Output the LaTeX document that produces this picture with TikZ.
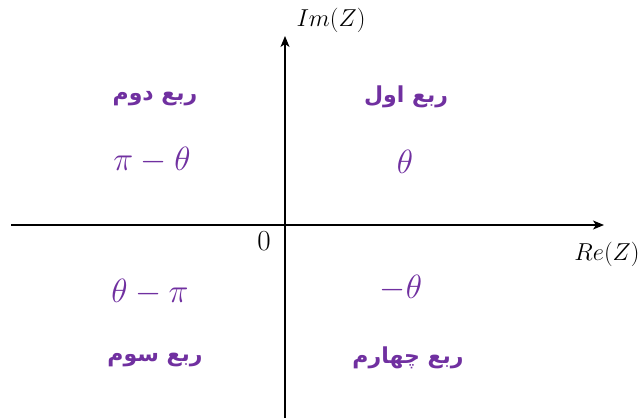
\documentclass[tikz,border=0pt]{standalone}
\usepackage{fontspec}
\TeXXeTstate=1
\newfontfamily\arabicfont[Script=Arabic]{DejaVu Sans}
\definecolor{qpurple}{HTML}{7030A0}
\usetikzlibrary{arrows.meta}
\newcommand{\scmath}[2]{\scalebox{#1}{$#2$}}
\tikzset{
  axis/.style={line width=1.6pt,-{Stealth[length=11pt,width=9pt,inset=3pt]}},
  quad/.style={text=qpurple,font=\arabicfont\bfseries\fontsize{22}{24}\selectfont,inner sep=0pt},
  ang/.style={text=qpurple,font=\fontsize{20.74}{24}\selectfont,inner sep=0pt},
  axlab/.style={font=\fontsize{20.74}{24}\selectfont,inner sep=0pt}
}
\begin{document}
\begin{tikzpicture}[x=1pt,y=-1pt]
\useasboundingbox (0,0) rectangle (643,418);
\coordinate (xs) at (11,225);
\coordinate (xe) at (604,225);
\coordinate (ys) at (285,418);
\coordinate (ye) at (285,36);
\draw[axis] (xs) -- (xe);
\draw[axis] (ys) -- (ye);
\node[axlab] (im) at (331,20) {\scmath{1.18}{Im(Z)}};
\node[axlab] (re) at (607,254) {\scmath{1.18}{Re(Z)}};
\node[axlab] (o) at (264,241) {\scmath{1.4}{0}};
\node[quad] (q2) at (155,99) {\beginR ربع دوم\endR};
\node[quad] (q1) at (406,97) {\beginR ربع اول\endR};
\node[quad] (q3) at (155,360) {\beginR ربع سوم\endR};
\node[quad] (q4) at (408,358) {\beginR ربع چهارم\endR};
\node[ang] (a2) at (152,160) {\scmath{1.62}{\pi-\theta}};
\node[ang] (a1) at (405,162) {\scmath{1.62}{\theta}};
\node[ang] (a3) at (150,292) {\scmath{1.62}{\theta-\pi}};
\node[ang] (a4) at (401,288) {\scmath{1.62}{-\theta}};
\end{tikzpicture}
\end{document}
